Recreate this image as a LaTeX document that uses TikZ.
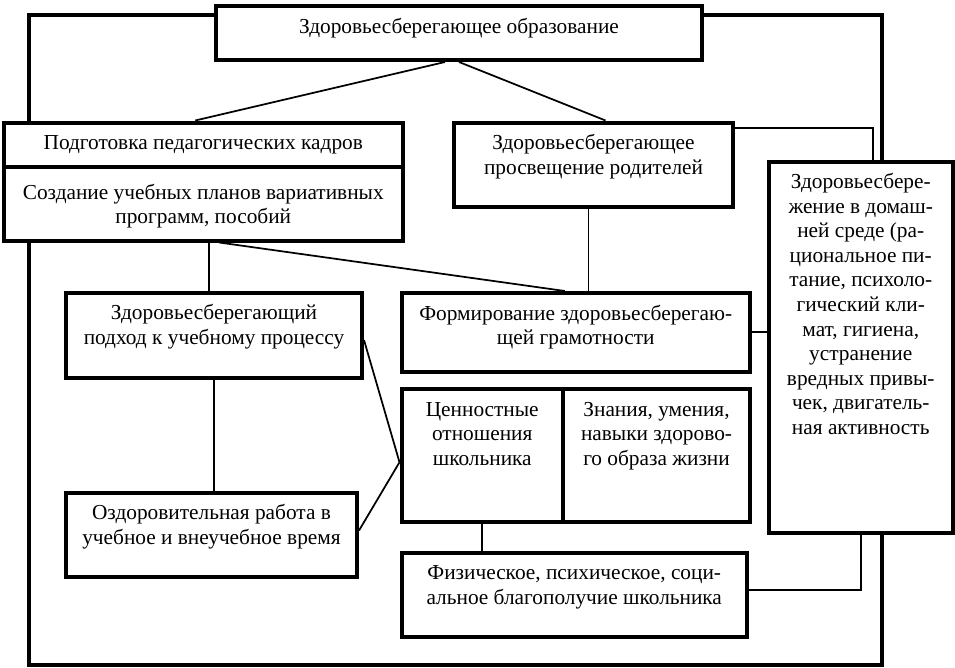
\documentclass[tikz,border=0pt]{standalone}
\usepackage{fontspec}
\setmainfont{Liberation Serif}
\usetikzlibrary{calc}
\newdimen\pxu \pxu=0.75pt
\newcommand{\boxtext}[4][20.5pt]{\parbox[c][#3\pxu][t]{#2\pxu}{\centering\rule{0pt}{#1}#4}}

\begin{document}
\begin{tikzpicture}[x=0.75pt,y=-0.75pt, every node/.style={font=\fontsize{16}{18.4}\selectfont},
  blk/.style={draw, line width=3pt, fill=white, inner sep=0pt, anchor=north west},
  link/.style={line width=1.3pt}]
  \useasboundingbox (0,0) rectangle (955,667);
  \draw[line width=3pt] (29,15.5) rectangle (882,664.5);
  \node[blk] (edu) at (214,4) {\boxtext{486}{54}{Здоровьесберегающее образование}};
  \node[blk] (prep) at (2,120.5) {\boxtext{398.5}{44.5}{Подготовка педагогических кадров}};
  \node[blk] (plans) at (2,165) {\boxtext[24pt]{398.5}{73.5}{Создание учебных планов вариативных\\программ, пособий}};
  \node[blk] (parents) at (452,120.5) {\boxtext{279}{84}{Здоровьесберегающее\\просвещение родителей}};
  \node[blk] (home) at (767,159.5) {\boxtext{183.5}{371}{Здоровьесбере-\\жение в домаш-\\ней среде (ра-\\циональное пи-\\тание, психоло-\\гический кли-\\мат, гигиена,\\устранение\\вредных привы-\\чек, двигатель-\\ная активность}};
  \node[blk] (approach) at (64,290.5) {\boxtext{296}{85}{Здоровьесберегающий\\подход к учебному процессу}};
  \node[blk] (literacy) at (399.5,291) {\boxtext{348.5}{78.5}{Формирование здоровьесберегаю-\\щей грамотности}};
  \node[blk] (values) at (399.5,387) {\boxtext{161.5}{132.5}{Ценностные\\отношения\\школьника}};
  \node[blk] (skills) at (561,387) {\boxtext{187}{132.5}{Знания, умения,\\навыки здорово-\\го образа жизни}};
  \node[blk] (health) at (64,490.5) {\boxtext{291}{84}{Оздоровительная работа в\\учебное и внеучебное время}};
  \node[blk] (wellbeing) at (399.5,550.5) {\boxtext{345.5}{84.5}{Физическое, психическое, соци-\\альное благополучие школьника}};
  \coordinate (meet) at ($(values.west)+(0,7)$);
  \draw[link] ($(edu.south)+(-14,0)$) -- ($(prep.north)+(-8,0)$);
  \draw[link] (edu.south) -- ($(parents.north)+(12,0)$);
  \draw[link] ($(plans.south)+(6,0)$) coordinate (p) -- (p |- approach.north);
  \draw[link] ($(plans.south)+(16,0)$) -- ($(literacy.north)+(-11,0)$);
  \draw[link] ($(parents.south)+(-5,0)$) coordinate (q) -- (q |- literacy.north);
  \draw[link] ($(parents.north east)+(0,7.5)$) -| ($(home.north)+(12,0)$);
  \draw[link] (literacy.east) -- (literacy.east -| home.west);
  \draw[link] ($(approach.east)+(0,5)$) -- (meet);
  \draw[link] ($(health.east)+(0,-4)$) -- (meet);
  \draw[link] (approach.south) -- (approach.south |- health.north);
  \draw[link] (values.south) -- (values.south |- wellbeing.north);
  \draw[link] ($(wellbeing.east)+(0,-5)$) -| (home.south);
\end{tikzpicture}
\end{document}
